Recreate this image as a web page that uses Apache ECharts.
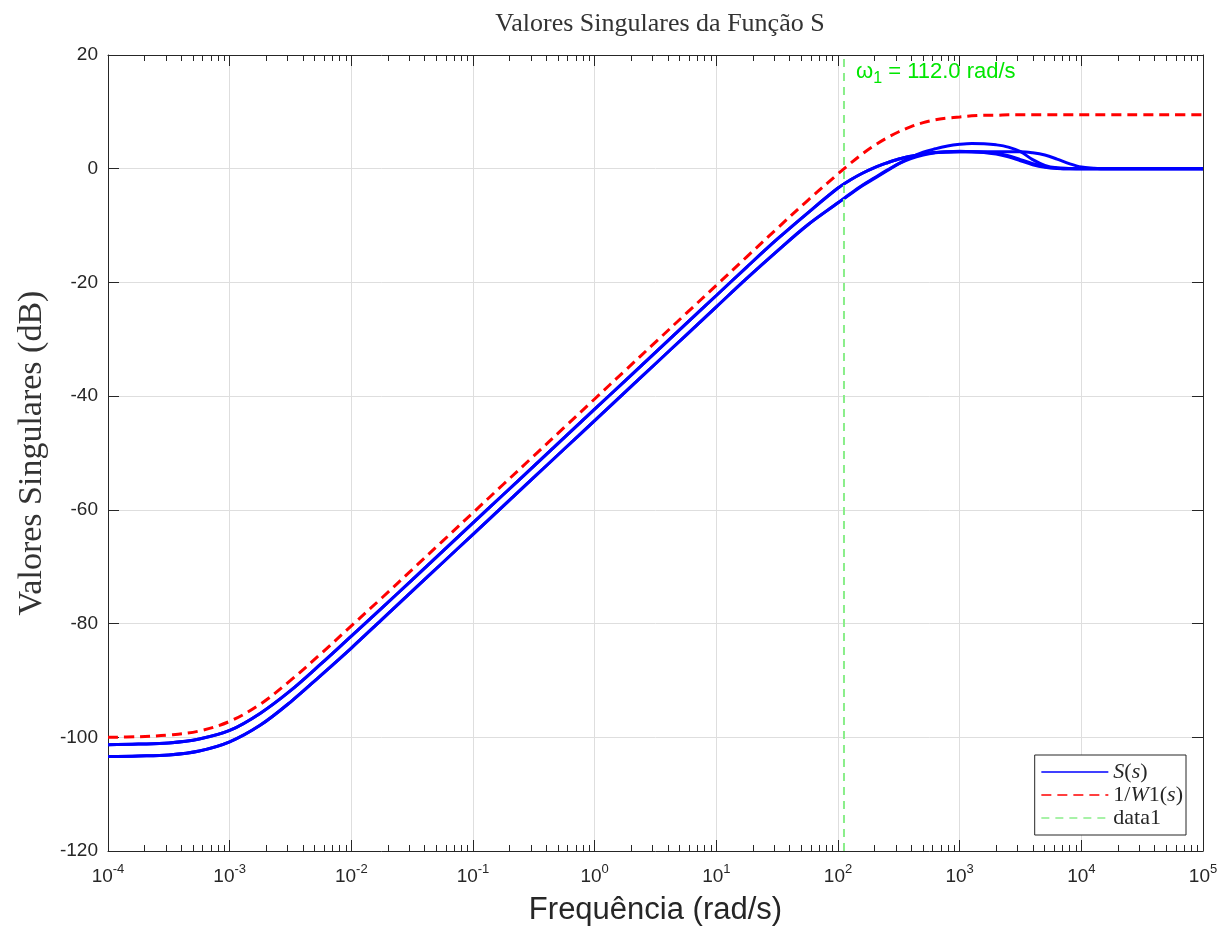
<!DOCTYPE html>
<html>
<head>
<meta charset="utf-8">
<script src="https://cdn.jsdelivr.net/npm/echarts@6/dist/echarts.min.js"></script>
<style>html,body{margin:0;padding:0;background:#fff}#c{width:1232px;height:933px}</style>
</head>
<body>
<div id="c"></div>
<script>
// Frequencies (rad/s)
const freq = [1e-4, 1.778e-4, 3.162e-4, 5.623e-4, 1e-3, 1.778e-3, 3.162e-3, 5.623e-3,
  1e-2, 1.778e-2, 3.162e-2, 5.623e-2, 0.1, 0.1778, 0.3162, 0.5623, 1, 1.778, 3.162, 5.623,
  10, 17.78, 31.62, 56.23,
  100, 125.9, 158.5, 199.5, 251.2, 316.2, 398.1, 501.2, 631.0, 794.3,
  1000, 1259, 1585, 1995, 2512, 3162, 3981, 5012, 6310, 7943,
  10000, 12589, 15849, 19953, 31623, 56234, 100000];

// 1/W1(s) in dB
const invW1 = [-100.0, -99.9, -99.6, -98.9, -97.2, -94.2, -90.0, -85.3,
  -80.4, -75.5, -70.5, -65.5, -60.5, -55.5, -50.5, -45.5, -40.5, -35.5, -30.5, -25.5,
  -20.5, -15.5, -10.5, -5.6,
  -0.9, 0.9, 2.6, 4.1, 5.4, 6.5, 7.4, 8.1, 8.6, 8.9,
  9.1, 9.3, 9.4, 9.4, 9.5, 9.5, 9.5, 9.5, 9.5, 9.5,
  9.5, 9.5, 9.5, 9.5, 9.5, 9.5, 9.5];

// Singular values of S(s) in dB (four curves)
const sv1 = [-101.3, -101.2, -101.0, -100.3, -98.8, -95.8, -91.8, -87.1,
  -82.2, -77.3, -72.3, -67.3, -62.3, -57.3, -52.3, -47.3, -42.3, -37.3, -32.3, -27.3,
  -22.3, -17.3, -12.4, -7.8,
  -3.4, -2.0, -0.8, 0.2, 1.0, 1.7, 2.2, 2.6, 2.85, 2.95,
  3.0, 3.0, 3.0, 3.0, 3.0, 3.0, 2.8, 2.4, 1.7, 0.9,
  0.3, 0.1, 0.0, 0.0, 0.0, 0.0, 0.0];
const sv2 = [-101.3, -101.2, -101.0, -100.3, -98.8, -95.8, -91.8, -87.1,
  -82.2, -77.3, -72.3, -67.3, -62.3, -57.3, -52.3, -47.3, -42.3, -37.3, -32.3, -27.3,
  -22.3, -17.3, -12.4, -7.8,
  -3.4, -2.0, -0.8, 0.2, 1.0, 1.7, 2.2, 2.6, 2.85, 2.95,
  3.0, 3.0, 2.9, 2.7, 2.3, 1.6, 0.9, 0.35, 0.1, 0.0,
  0.0, 0.0, 0.0, 0.0, 0.0, 0.0, 0.0];
const sv3 = [-103.4, -103.3, -103.1, -102.4, -100.8, -97.9, -93.8, -89.1,
  -84.3, -79.3, -74.3, -69.3, -64.3, -59.3, -54.3, -49.3, -44.3, -39.3, -34.3, -29.3,
  -24.3, -19.3, -14.5, -9.9,
  -6.0, -4.5, -3.0, -1.7, -0.4, 0.9, 2.0, 2.9, 3.5, 4.0,
  4.3, 4.45, 4.4, 4.2, 3.8, 3.0, 1.6, 0.6, 0.15, 0.05,
  0.0, 0.0, 0.0, 0.0, 0.0, 0.0, 0.0];
const sv4 = [-103.4, -103.3, -103.1, -102.4, -100.8, -97.9, -93.8, -89.1,
  -84.3, -79.3, -74.3, -69.3, -64.3, -59.3, -54.3, -49.3, -44.3, -39.3, -34.3, -29.3,
  -24.3, -19.3, -14.5, -9.9,
  -6.0, -4.4, -2.9, -1.6, -0.3, 0.9, 1.8, 2.4, 2.8, 3.0,
  3.05, 3.0, 2.85, 2.6, 2.1, 1.4, 0.7, 0.25, 0.05, 0.0,
  0.0, 0.0, 0.0, 0.0, 0.0, 0.0, 0.0];

// Vertical marker at omega_1
const omega1 = 112.0;
const markerY = [-120, 20];

const yTicks = { min: -120, max: 20, step: 20 };
const xRange = { min: 1e-4, max: 1e5 };

const pair = (ys) => freq.map((f, i) => [f, ys[i]]);

const TXT = '#262626';
const SANS = 'Liberation Sans, Arial, Helvetica, sans-serif';
const SERIF = 'Liberation Serif, Times New Roman, serif';

const chart = echarts.init(document.getElementById('c'), null, { renderer: 'canvas' });

const logAxisBase = {
  type: 'log', logBase: 10, min: xRange.min, max: xRange.max, interval: 1,
  axisLine: { show: true, onZero: false, lineStyle: { color: TXT, width: 1 } },
  axisTick: { show: true, inside: true, length: 11, lineStyle: { color: TXT, width: 1 } },
  minorTick: { show: true, splitNumber: 9, length: 6, lineStyle: { color: TXT, width: 1 } },
  minorSplitLine: { show: false }
};

function blueSeries(arr) {
  return { name: 'S(s)', type: 'line', data: pair(arr), showSymbol: false, symbol: 'none', smooth: 0.35,
    lineStyle: { color: '#0000ff', width: 3 }, itemStyle: { color: '#0000ff' }, z: 2 };
}

chart.setOption({
  animation: false,
  backgroundColor: '#ffffff',
  title: {
    text: 'Valores Singulares da Função S',
    left: 655, top: 6, textAlign: 'center',
    textStyle: { fontFamily: SERIF, fontSize: 26, fontWeight: 'normal', color: '#333333' }
  },
  grid: { left: 108, right: 29, top: 55, bottom: 82, containLabel: false },
  legend: {
    data: ['S(s)', '1/W1(s)', 'data1'],
    orient: 'vertical', right: 46, top: 755,
    padding: [6, 3, 6, 6], itemGap: 1, itemWidth: 67, itemHeight: 14,
    borderColor: TXT, borderWidth: 1, backgroundColor: '#ffffff',
    lineStyle: { width: 1.3 },
    itemStyle: { opacity: 0, color: 'rgba(0,0,0,0)', borderWidth: 0 },
    formatter: function (n) {
      if (n === 'S(s)') return '{i|S}{r|(}{i|s}{r|)}';
      if (n === '1/W1(s)') return '{r|1/}{i|W}{r|1(}{i|s}{r|)}';
      return '{r|' + n + '}';
    },
    textStyle: {
      color: TXT, fontSize: 22, fontFamily: SERIF, lineHeight: 22,
      rich: {
        i: { fontFamily: SERIF, fontStyle: 'italic', fontSize: 22, color: TXT },
        r: { fontFamily: SERIF, fontSize: 22, color: TXT }
      }
    }
  },
  xAxis: [
    Object.assign({}, logAxisBase, {
      position: 'bottom',
      splitLine: { show: true, lineStyle: { color: '#dedede', width: 1 } },
      axisLabel: {
        margin: 12,
        formatter: function (v) {
          const e = Math.round(Math.log10(v));
          return '{b|10}{e|' + e + '}';
        },
        rich: {
          b: { fontFamily: SANS, fontSize: 19, color: TXT },
          e: { fontFamily: SANS, fontSize: 13, color: TXT, padding: [0, 0, 14, 0] }
        }
      },
      name: 'Frequência (rad/s)', nameLocation: 'middle', nameGap: 44,
      nameTextStyle: { fontFamily: SANS, fontSize: 31, color: TXT }
    }),
    Object.assign({}, logAxisBase, {
      position: 'top',
      splitLine: { show: false },
      axisLabel: { show: false }
    })
  ],
  yAxis: [
    {
      type: 'value', position: 'left', min: yTicks.min, max: yTicks.max, interval: yTicks.step,
      axisLine: { show: true, onZero: false, lineStyle: { color: TXT, width: 1 } },
      axisTick: { show: true, inside: true, length: 11, lineStyle: { color: TXT } },
      splitLine: { show: true, lineStyle: { color: '#dedede', width: 1 } },
      axisLabel: { margin: 10, fontFamily: SANS, fontSize: 19, color: TXT },
      name: 'Valores Singulares (dB)', nameLocation: 'middle', nameGap: 59,
      nameTextStyle: { fontFamily: SERIF, fontSize: 34, color: '#333333' }
    },
    {
      type: 'value', position: 'right', min: yTicks.min, max: yTicks.max, interval: yTicks.step,
      axisLine: { show: true, onZero: false, lineStyle: { color: TXT, width: 1 } },
      axisTick: { show: true, inside: true, length: 11, lineStyle: { color: TXT } },
      splitLine: { show: false },
      axisLabel: { show: false }
    }
  ],
  series: [
    blueSeries(sv1), blueSeries(sv2), blueSeries(sv3), blueSeries(sv4),
    {
      name: '1/W1(s)', type: 'line', data: pair(invW1), showSymbol: false, symbol: 'none', smooth: 0.35,
      lineStyle: { color: '#ff0000', width: 3, type: [10, 6] }, itemStyle: { color: '#ff0000' }, z: 3
    },
    {
      name: 'data1', type: 'line', data: markerY.map(y => [omega1, y]), showSymbol: false, symbol: 'none',
      lineStyle: { color: '#8aee8a', width: 2, type: [8, 6] }, itemStyle: { color: '#8aee8a' }, z: 4,
      markPoint: {
        symbol: 'circle', symbolSize: 0, silent: true,
        data: [{
          coord: [omega1, markerY[1]],
          label: {
            show: true, position: 'right', distance: 12, offset: [0, 17],
            formatter: '{w|ω}{s|1}{t| = ' + omega1.toFixed(1) + ' rad/s}',
            rich: {
              w: { fontFamily: SANS, fontSize: 22, color: '#00e600' },
              s: { fontFamily: SANS, fontSize: 16, color: '#00e600', padding: [14, 0, 0, 0] },
              t: { fontFamily: SANS, fontSize: 22, color: '#00e600' }
            }
          }
        }]
      }
    }
  ]
});
</script>
</body>
</html>
